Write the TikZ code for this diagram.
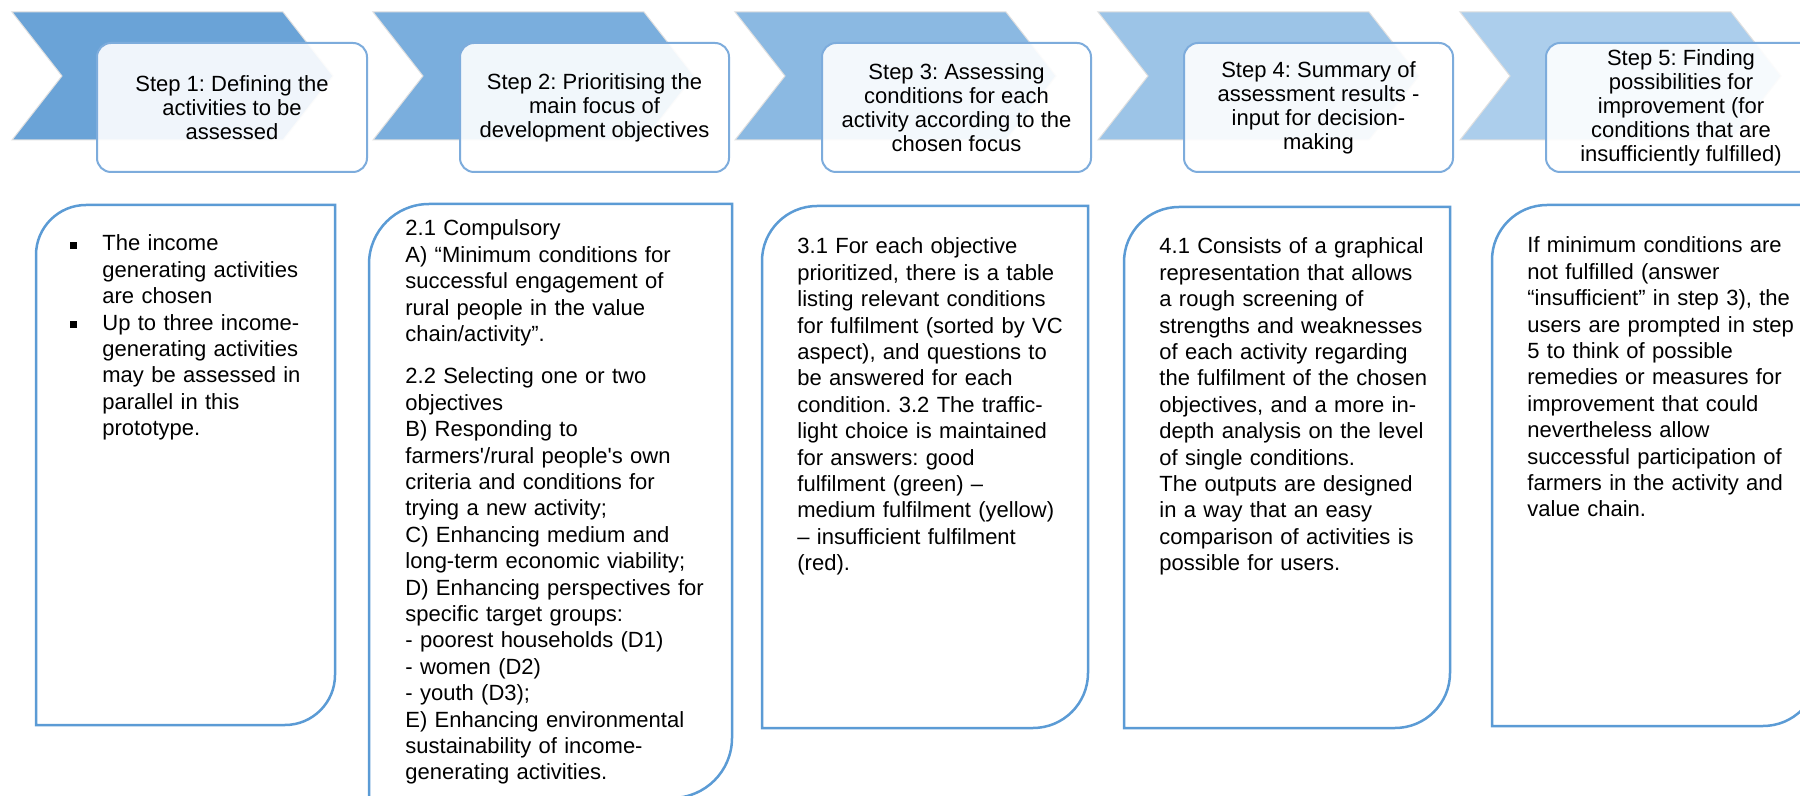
\documentclass[tikz,border=0pt]{standalone}
\usepackage{fontspec}
\setmainfont{Liberation Sans}
\frenchspacing
\definecolor{cA}{RGB}{106,163,215}
\definecolor{cB}{RGB}{122,174,221}
\definecolor{cC}{RGB}{139,185,226}
\definecolor{cD}{RGB}{156,196,231}
\definecolor{cE}{RGB}{172,206,236}
\definecolor{tbord}{RGB}{125,172,220}
\definecolor{lbord}{RGB}{91,155,213}
\newcommand\mychev[2]{%
  \draw[chev, fill=#2] (#1,12) -- ({#1+271},12) -- ({#1+321},76) -- ({#1+271},140) -- (#1,140) -- ({#1+50},76) -- cycle;}
\newcommand\mydiagbox[5]{%
  \draw[lowbox] (#1,{#2+#5}) .. controls (#1,{#2+0.448*#5}) and ({#1+0.448*#5},#2) .. ({#1+#5},#2)
    -- (#3,#2) -- (#3,{#4-#5}) .. controls (#3,{#4-0.448*#5}) and ({#3-0.448*#5},#4) .. ({#3-#5},#4)
    -- (#1,#4) -- cycle;}
\newcommand\mybul{\makebox[0pt][r]{\rule[1.2pt]{3.5pt}{3.5pt}\hspace{12.5pt}}}
\begin{document}
\frenchspacing
\begin{tikzpicture}[x=0.5pt,y=-0.5pt,
  chev/.style={draw=black!12, line width=0.5pt},
  titlebox/.style={draw=tbord, line width=1pt, fill=white, fill opacity=0.9, rounded corners=7pt},
  titletext/.style={align=center, font=\fontsize{11pt}{12pt}\selectfont\frenchspacing, inner sep=0pt},
  lowbox/.style={draw=lbord, line width=1.25pt, fill=white},
  bodytext/.style={anchor=base west, align=left, text width=200pt, inner sep=0pt, font=\fontsize{11pt}{13.2pt}\selectfont\frenchspacing}]
\useasboundingbox (0,0) rectangle (1800,796);
\clip (0,0) rectangle (1800,796);
\fill[white] (0,0) rectangle (1800,796);
% chevrons
\mychev{12}{cA}
\mychev{373}{cB}
\mychev{735}{cC}
\mychev{1098}{cD}
\mychev{1460}{cE}
% title boxes
\draw[titlebox] (97,43) rectangle (367,172);
\draw[titlebox] (460,43) rectangle (729,172);
\draw[titlebox] (822,43) rectangle (1091,172);
\draw[titlebox] (1184,43) rectangle (1453,172);
\draw[titlebox] (1546,43) rectangle (1816,172);
\node[titletext] (t1) at (232,107.5) {Step 1: Defining the\\activities to be\\assessed};
\node[titletext] (t2) at (594.5,107.5) {Step 2: Prioritising the\\main focus of\\development objectives};
\node[titletext] (t3) at (956.5,107.5) {Step 3: Assessing\\conditions for each\\activity according to the\\chosen focus};
\node[titletext] (t4) at (1318.5,107.5) {Step 4: Summary of\\assessment results -\\input for decision-\\making};
\node[titletext] (t5) at (1681,107.5) {Step 5: Finding\\possibilities for\\improvement (for\\conditions that are\\insufficiently fulfilled)};
% lower boxes
\mydiagbox{36}{205}{335}{725}{50}
\mydiagbox{369}{204}{732}{798}{60}
\mydiagbox{762}{206}{1088}{728}{55}
\mydiagbox{1124}{207}{1450}{728}{55}
\mydiagbox{1492}{205}{1818}{726}{55}
\node[bodytext] (b1) at (102,251) {\mybul The income\\generating activities\\are chosen\\\mybul Up to three income-\\generating activities\\may be assessed in\\parallel in this\\prototype.};
\node[bodytext] (b2) at (405,236) {2.1 Compulsory\\A) “Minimum conditions for\\successful engagement of\\rural people in the value\\chain/activity”.\\[8pt]2.2 Selecting one or two\\objectives\\B) Responding to\\farmers\textquotesingle/rural people\textquotesingle s own\\criteria and conditions for\\trying a new activity;\\C) Enhancing medium and\\long-term economic viability;\\D) Enhancing perspectives for\\specific target groups:\\- poorest households (D1)\\- women (D2)\\- youth (D3);\\E) Enhancing environmental\\sustainability of income-\\generating activities.};
\node[bodytext] (b3) at (797,254) {3.1 For each objective\\prioritized, there is a table\\listing relevant conditions\\for fulfilment (sorted by VC\\aspect), and questions to\\be answered for each\\condition. 3.2 The traffic-\\light choice is maintained\\for answers: good\\fulfilment (green) –\\medium fulfilment (yellow)\\– insufficient fulfilment\\(red).};
\node[bodytext] (b4) at (1159,254) {4.1 Consists of a graphical\\representation that allows\\a rough screening of\\strengths and weaknesses\\of each activity regarding\\the fulfilment of the chosen\\objectives, and a more in-\\depth analysis on the level\\of single conditions.\\The outputs are designed\\in a way that an easy\\comparison of activities is\\possible for users.};
\node[bodytext] (b5) at (1527,253) {If minimum conditions are\\not fulfilled (answer\\“insufficient” in step 3), the\\users are prompted in step\\5 to think of possible\\remedies or measures for\\improvement that could\\nevertheless allow\\successful participation of\\farmers in the activity and\\value chain.};
\end{tikzpicture}
\end{document}
